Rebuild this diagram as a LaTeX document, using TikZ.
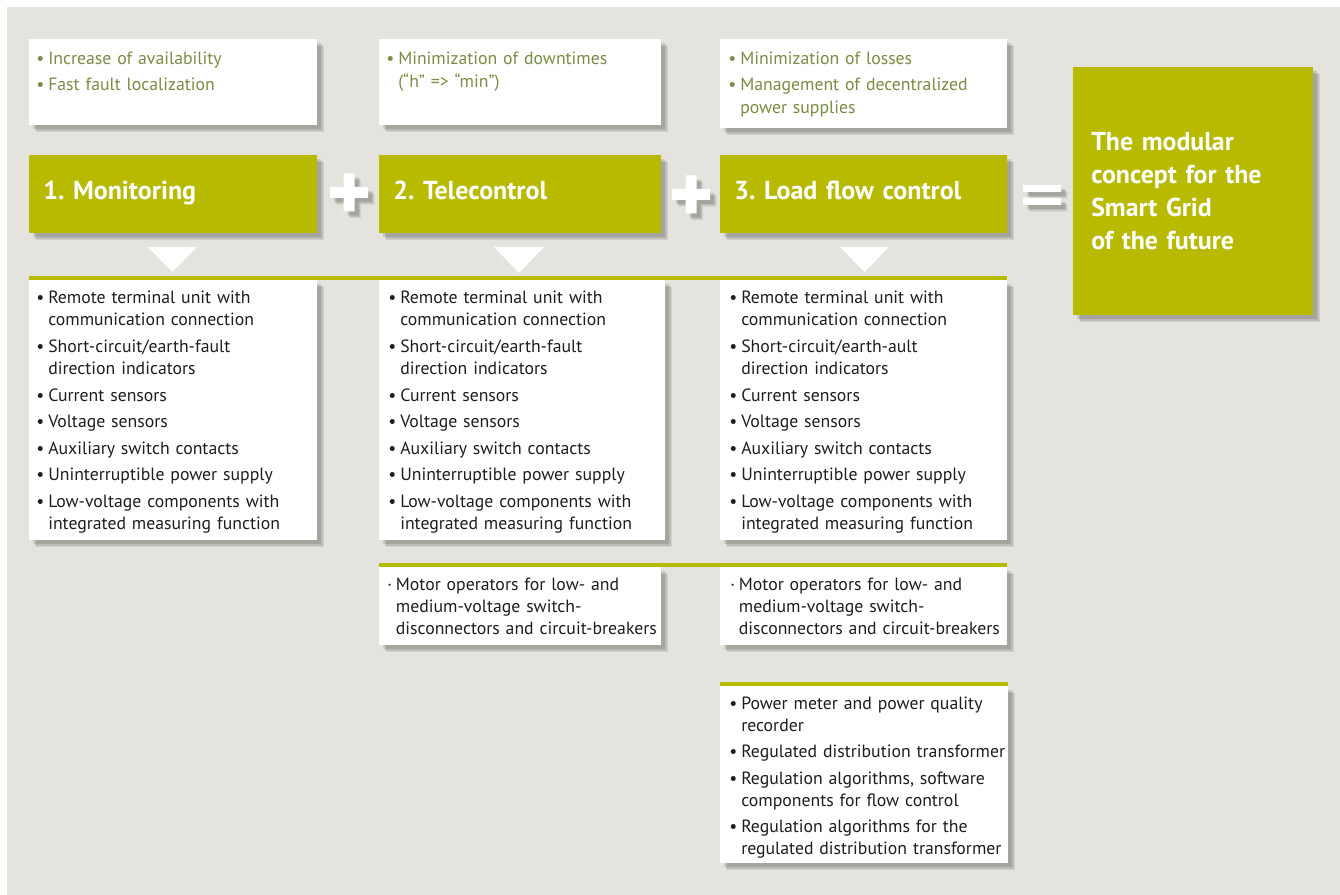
\documentclass[tikz,border=0pt]{standalone}
\usepackage{fontspec}
\setmainfont{PT Sans}
\usetikzlibrary{shadows}
\definecolor{bg}{HTML}{E4E3DD}
\definecolor{lime}{HTML}{B8BA00}
\definecolor{olive}{HTML}{7A8C45}
\definecolor{ink}{HTML}{1E1E1E}
\tikzset{
  every picture/.style={line join=round, line cap=round},
  softshadow/.style={
    drop shadow={shadow xshift=5pt, shadow yshift=-5pt, fill=black, opacity=.08},
    drop shadow={shadow xshift=4pt, shadow yshift=-4pt, fill=black, opacity=.10},
    drop shadow={shadow xshift=3pt, shadow yshift=-3pt, fill=black, opacity=.12}},
  whitebox/.style={fill=white, softshadow, inner sep=0pt, anchor=north west},
  headbox/.style={fill=lime, softshadow, inner xsep=10pt, anchor=north west, align=left,
    text height=13.5pt, text depth=6pt,
    text=white, font=\fontsize{19.5}{22}\selectfont\bfseries\frenchspacing},
  goalbox/.style={fill=lime, softshadow, inner xsep=13.5pt, anchor=north west, align=left,
    text=white, font=\fontsize{19.4}{24.75}\selectfont\bfseries},
  toptext/.style={anchor=base west, inner sep=0pt, text width=240pt, align=left,
    text=olive, font=\fontsize{13.3}{17.25}\selectfont},
  listtext/.style={anchor=base west, inner sep=0pt, text width=240pt, align=left,
    text=ink, font=\fontsize{13.3}{16.5}\selectfont},
  sign/.style={fill=white, softshadow},
}
\newcommand{\itm}[1]{\hangindent=9pt\hangafter=1\makebox[9pt][l]{\textbullet}#1\par}
\newcommand{\dotitm}[1]{\hangindent=6.5pt\hangafter=1\makebox[6.5pt][l]{\textperiodcentered}#1\par}

\begin{document}
\begin{tikzpicture}[x=0.75pt,y=-0.75pt]
\useasboundingbox (0,0) rectangle (1340,895);
\fill[white] (0,0) rectangle (1340,895);
\fill[bg] (7,7) rectangle (1340,895);

% benefits
\node[whitebox, minimum width=216pt, minimum height=64.5pt] (top1) at (29,39) {};
\node[whitebox, minimum width=211.5pt, minimum height=64.5pt] (top2) at (379,39) {};
\node[whitebox, minimum width=215.25pt, minimum height=66.75pt] (top3) at (720,39) {};
\node[toptext] (topt1) at (36,65) {\setlength{\parskip}{2.25pt}%
  \itm{Increase of availability}\itm{Fast fault localization}};
\node[toptext] (topt2) at (386,65) {\setlength{\parskip}{2.25pt}%
  \itm{Minimization of downtimes\newline (“h” => “min”)}};
\node[toptext] (topt3) at (728,65) {\setlength{\parskip}{2.25pt}%
  \itm{Minimization of losses}\itm{Management of decentralized\newline power supplies}};

% modules
\node[headbox, minimum width=216pt, minimum height=58.5pt, text width=195pt] (head1) at (29,155) {1. Monitoring};
\node[headbox, minimum width=211.5pt, minimum height=58.5pt, text width=190.5pt] (head2) at (379,155) {2. Telecontrol};
\node[headbox, minimum width=215.25pt, minimum height=58.5pt, text width=194.25pt] (head3) at (720,155) {3. Load flow control};
\node[goalbox, minimum width=180pt, minimum height=186pt, text width=153pt] (goal) at (1073,67)
  {The modular\\concept for the\\Smart Grid\\of the future};

% plus and equals
\fill[sign] (330,187) rectangle (368,198) (343.5,173.5) rectangle (354.5,211.5);
\fill[sign] (672,189) rectangle (710,200) (685.5,175.5) rectangle (696.5,213.5);
\fill[sign] (1023,185) rectangle (1061,192) (1023,198) rectangle (1061,205);

% arrows down
\fill[white] (148,247) -- (197,247) -- (172.5,272) -- cycle;
\fill[white] (494,247) -- (544,247) -- (519,273) -- cycle;
\fill[white] (840,247) -- (889,247) -- (864.5,272) -- cycle;

% components
\node[whitebox, minimum width=216pt, minimum height=195pt] (comp1) at (29,280) {};
\node[whitebox, minimum width=214.5pt, minimum height=195pt] (comp2) at (379,280) {};
\node[whitebox, minimum width=215.25pt, minimum height=195pt] (comp3) at (720,280) {};
\fill[lime] (29,276) rectangle (1007,280);
\node[listtext] (compt1) at (36,304) {\setlength{\parskip}{3.4pt}%
  \itm{Remote terminal unit with\newline communication connection}
  \itm{Short-circuit/earth-fault\newline direction indicators}
  \itm{Current sensors}
  \itm{Voltage sensors}
  \itm{Auxiliary switch contacts}
  \itm{Uninterruptible power supply}
  \itm{Low-voltage components with\newline integrated measuring function}};
\node[listtext] (compt2) at (388,304) {\setlength{\parskip}{3.4pt}%
  \itm{Remote terminal unit with\newline communication connection}
  \itm{Short-circuit/earth-fault\newline direction indicators}
  \itm{Current sensors}
  \itm{Voltage sensors}
  \itm{Auxiliary switch contacts}
  \itm{Uninterruptible power supply}
  \itm{Low-voltage components with\newline integrated measuring function}};
\node[listtext] (compt3) at (729,304) {\setlength{\parskip}{3.4pt}%
  \itm{Remote terminal unit with\newline communication connection}
  \itm{Short-circuit/earth-ault\newline direction indicators}
  \itm{Current sensors}
  \itm{Voltage sensors}
  \itm{Auxiliary switch contacts}
  \itm{Uninterruptible power supply}
  \itm{Low-voltage components with\newline integrated measuring function}};

% motor operators
\node[whitebox, minimum width=211.5pt, minimum height=58.5pt] (motor2) at (379,567) {};
\node[whitebox, minimum width=215.25pt, minimum height=58.5pt] (motor3) at (720,567) {};
\fill[lime] (379,563) rectangle (1007,567);
\node[listtext] (motort2) at (387,590) {%
  \dotitm{Motor operators for low- and\newline medium-voltage switch-\newline disconnectors and circuit-breakers}};
\node[listtext] (motort3) at (730,590) {%
  \dotitm{Motor operators for low- and\newline medium-voltage switch-\newline disconnectors and circuit-breakers}};

% load flow extras
\node[whitebox, minimum width=216pt, minimum height=132.75pt] (flow3) at (720,686) {};
\fill[lime] (720,682) rectangle (1008,686);
\node[listtext] (flowt3) at (729,709) {\setlength{\parskip}{3.4pt}%
  \itm{Power meter and power quality\newline recorder}
  \itm{Regulated distribution transformer}
  \itm{Regulation algorithms, software\newline components for flow control}
  \itm{Regulation algorithms for the\newline regulated distribution transformer}};
\end{tikzpicture}
\end{document}
